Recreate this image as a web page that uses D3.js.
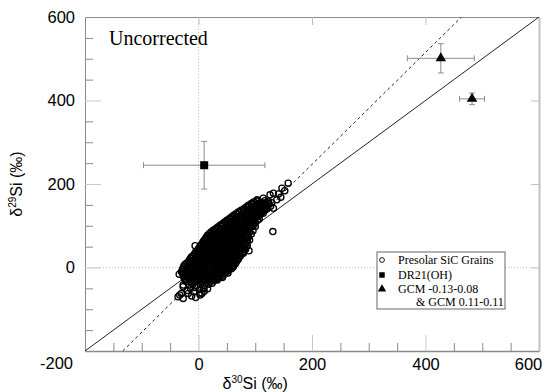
<!DOCTYPE html>
<html>
<head>
<meta charset="utf-8">
<script src="https://cdn.jsdelivr.net/npm/d3@7"></script>
<style>
  body { margin: 0; background: #fff; }
  svg { display: block; }
</style>
</head>
<body>
<div id="chart"></div>
<script>
// axis ticks
const majorTicks = [-200, 0, 200, 400, 600];
const xLabelTicks = [0, 200, 400, 600];
const minorTicks = [-150, -100, -50, 50, 100, 150, 250, 300, 350, 450, 500, 550];

// reference lines: y = slope * x + intercept
const solarLine = { slope: 1, intercept: 0 };
const fitLine = { slope: 1.34, intercept: -21 };

// DR21(OH) and GCM measurements with 1-sigma errors
const dr21 = [{ d30: 10, d29: 245, e30: 107, e29: 57 }];
const gcm = [
  { d30: 427, d29: 501, e30: 59, e29: 35 },
  { d30: 482, d29: 404, e30: 22, e29: 14 }
];

const legendLabels = ['Presolar SiC Grains', 'DR21(OH)', 'GCM -0.13-0.08', '& GCM 0.11-0.11'];

// presolar SiC grains [d30Si, d29Si]
const sicGrains = [
  [-12,-68],[-5,-72],[3,-66],[-18,-62],
  [-8,-58],[2,-61],[10,-57],[-20,-55],
  [-14,-50],[-6,-48],[2,-52],[9,-49],[16,-51],
  [-17,-42],[-10,-40],[-3,-43],[4,-41],[11,-44],[18,-40],[24,-38],
  [-21,-34],[-14,-33],[-7,-35],[0,-32],[6,-34],[13,-31],[20,-35],[27,-32],[33,-30],
  [-23,-30],[-16,-29],[-9,-31],[-2,-28],[5,-30],[11,-28],[18,-31],[25,-29],[31,-28],
  [-25,-26],[-18,-24],[-11,-27],[-4,-25],[3,-23],[9,-26],[16,-24],[23,-27],[30,-25],[37,-22],[42,-24],
  [-26,-22],[-19,-21],[-12,-23],[-5,-20],[2,-22],[9,-21],[15,-23],[22,-20],[29,-22],[36,-19],[43,-21],
  [-27,-18],[-20,-16],[-13,-19],[-6,-17],[1,-15],[8,-18],[14,-16],[21,-19],[28,-17],[35,-15],[41,-18],[47,-14],
  [-28,-14],[-21,-13],[-14,-15],[-7,-12],[0,-14],[7,-13],[13,-15],[20,-12],[27,-14],[34,-12],[40,-14],[46,-11],[52,-13],
  [-29,-9],[-22,-11],[-15,-8],[-8,-10],[-1,-7],[6,-11],[12,-9],[19,-6],[26,-10],[33,-8],[39,-11],[45,-7],[51,-9],
  [-28,-5],[-21,-6],[-14,-4],[-7,-6],[0,-4],[7,-6],[13,-5],[20,-3],[27,-6],[34,-4],[40,-6],[46,-4],[53,-5],[58,-3],
  [-27,-1],[-20,-3],[-13,0],[-6,-2],[1,1],[7,-3],[14,-1],[21,2],[28,-2],[34,0],[41,-3],[47,1],[54,-1],[59,2],
  [-26,3],[-19,2],[-12,4],[-5,2],[2,3],[9,1],[15,4],[22,2],[29,4],[36,2],[42,5],[49,3],[55,4],[61,1],
  [-24,7],[-17,5],[-10,8],[-3,6],[4,4],[11,8],[17,6],[24,9],[31,5],[37,7],[44,10],[50,6],[56,8],[62,5],
  [-21,10],[-14,11],[-7,9],[0,11],[7,10],[14,12],[20,9],[27,11],[34,10],[40,12],[46,9],[53,11],[59,10],[65,9],
  [-18,13],[-11,15],[-4,12],[3,16],[10,14],[16,11],[23,15],[29,13],[36,17],[42,12],[49,15],[55,13],[61,16],[66,12],
  [-16,18],[-9,17],[-2,19],[5,18],[12,17],[18,19],[25,17],[32,19],[38,18],[45,17],[51,19],[57,18],[63,19],[68,17],
  [-14,22],[-7,20],[0,23],[7,21],[13,24],[20,19],[27,23],[33,21],[40,25],[46,20],[52,23],[59,21],[65,24],[70,20],
  [-12,26],[-5,25],[2,27],[9,26],[16,25],[22,27],[29,26],[35,25],[42,27],[48,26],[54,24],[61,26],[67,27],[72,25],
  [-9,29],[-2,31],[5,28],[11,32],[18,30],[24,27],[31,31],[37,29],[44,33],[50,28],[56,31],[63,29],[69,32],[74,28],
  [-7,33],[0,35],[7,34],[13,33],[20,35],[26,34],[33,33],[39,35],[46,34],[52,33],[58,35],[65,34],[71,33],[77,35],
  [-5,37],[2,39],[9,36],[15,40],[22,38],[28,35],[35,39],[41,37],[48,41],[54,36],[60,39],[67,37],[73,40],[79,38],
  [-2,41],[4,43],[11,42],[17,41],[24,43],[30,42],[37,41],[43,43],[50,42],[56,41],[62,43],[69,42],[75,41],[81,43],
  [0,45],[6,47],[13,44],[19,48],[26,46],[32,43],[39,47],[45,45],[52,49],[58,44],[64,47],[71,45],[77,48],[83,44],
  [2,49],[8,51],[15,50],[21,49],[28,51],[34,50],[41,49],[47,51],[54,50],[60,49],[66,51],[73,50],[79,49],[84,51],
  [4,53],[11,55],[17,52],[24,56],[30,54],[37,51],[43,55],[49,53],[56,57],[62,52],[68,55],[75,53],[81,56],[86,52],
  [6,57],[13,59],[19,58],[26,57],[32,59],[39,58],[45,57],[51,59],[58,58],[64,57],[70,59],[77,58],[83,57],
  [8,61],[15,63],[21,60],[28,64],[34,62],[41,59],[47,63],[53,61],[60,65],[66,60],[72,63],[79,61],[85,64],
  [10,65],[17,67],[23,66],[30,65],[36,67],[42,66],[49,65],[55,67],[61,66],[68,65],[74,67],[80,66],[86,65],
  [12,69],[19,71],[25,68],[32,72],[38,70],[44,67],[51,71],[57,69],[63,73],[70,68],[76,71],[82,69],[87,72],
  [14,73],[21,75],[27,74],[34,73],[40,75],[46,74],[53,73],[59,75],[65,74],[71,73],[77,75],[83,74],
  [16,77],[23,79],[29,76],[36,80],[42,78],[48,75],[55,79],[61,77],[67,81],[73,76],[79,79],[85,77],
  [19,81],[26,83],[32,82],[38,81],[44,83],[51,82],[57,81],[63,83],[69,82],[75,81],[81,83],[87,82],
  [22,85],[28,87],[35,84],[41,88],[47,86],[53,83],[60,87],[66,85],[72,89],[78,84],[84,87],[90,85],
  [26,89],[33,91],[39,90],[45,89],[52,91],[58,90],[64,89],[70,91],[76,90],[82,89],[88,91],
  [30,93],[36,95],[42,92],[49,96],[55,94],[61,91],[67,95],[73,93],[79,97],[85,92],[91,95],
  [34,97],[40,99],[47,98],[53,97],[59,99],[66,98],[72,97],[78,99],[84,98],[90,97],[95,99],
  [38,101],[44,103],[50,100],[57,104],[63,102],[69,99],[75,103],[81,101],[87,105],[93,100],[98,103],
  [42,105],[48,107],[55,106],[61,105],[67,107],[73,106],[79,105],[85,107],[91,106],[97,105],
  [46,109],[52,111],[58,108],[64,112],[70,110],[76,107],[82,111],[88,109],[94,113],[100,108],
  [50,113],[56,115],[62,114],[68,113],[74,115],[80,114],[86,113],[92,115],[98,114],[104,113],
  [54,117],[60,119],[66,116],[72,120],[78,118],[84,115],[90,119],[96,117],[102,121],[107,116],
  [58,121],[64,123],[70,122],[76,121],[82,123],[88,122],[94,121],[100,123],[106,122],
  [62,125],[68,127],[74,124],[80,128],[86,126],[92,123],[98,127],[104,125],[110,129],
  [66,129],[72,131],[78,130],[84,129],[90,131],[96,130],[102,129],[108,131],[114,130],
  [70,133],[76,135],[82,132],[88,136],[94,134],[100,131],[106,135],[112,133],[117,137],
  [75,137],[81,139],[87,138],[93,137],[99,139],[105,138],[111,137],[117,139],
  [80,141],[86,143],[92,140],[98,144],[104,142],[110,139],[116,143],[121,141],
  [84,145],[90,147],[96,146],[102,145],[108,147],[114,146],[120,145],
  [88,149],[94,151],[100,148],[106,152],[112,150],[118,147],[124,151],
  [93,153],[99,155],[106,154],[112,153],[118,155],[124,154],
  [97,157],[104,159],[110,156],[117,160],[123,158],[129,155],
  // scattered grains around the cloud
  [-6,52],[-12,22],[-30,-10],[-34,-16],[-27,-46],[-30,-62],[-36,-70],[-27,-74],[-33,-66],[-27,-42],[9,-50],[6,-62],
  [31,70],[45,83],[54,96],[50,110],
  [89,40],[79,34],[72,31],[90,66],[88,73],[93,80],[96,88],[100,98],
  [131,86],
  [158,202],[147,190],[132,178],[141,176],[126,174],[114,166],[111,154],[123,158],[138,162],[103,162],
  [132,142],[127,147],[145,168],[152,184]
];

const W = 553, H = 392;
const margin = { top: 17, right: 14, bottom: 41, left: 85 };
const width = W - margin.left - margin.right;
const height = H - margin.top - margin.bottom;

const svg = d3.select('#chart').append('svg')
  .attr('width', W)
  .attr('height', H);

const g = svg.append('g')
  .attr('transform', `translate(${margin.left},${margin.top})`);

const x = d3.scaleLinear().domain([-200, 600]).range([0, width]);
const y = d3.scaleLinear().domain([-200, 600]).range([height, 0]);
const fmt = d => String(d);

svg.append('defs').append('clipPath').attr('id', 'plot-clip')
  .append('rect').attr('width', width).attr('height', height);

// zero lines
g.append('line')
  .attr('x1', x(0)).attr('x2', x(0)).attr('y1', 0).attr('y2', height)
  .attr('stroke', '#c4c4c4').attr('stroke-dasharray', '1,2');
g.append('line')
  .attr('x1', 0).attr('x2', width).attr('y1', y(0)).attr('y2', y(0))
  .attr('stroke', '#c4c4c4').attr('stroke-dasharray', '1,2');

// minor ticks (left + bottom)
g.append('g')
  .call(d3.axisLeft(y).tickValues(minorTicks).tickSize(-8).tickSizeOuter(0).tickFormat(''))
  .call(a => a.select('.domain').remove())
  .selectAll('.tick line').attr('stroke', '#8a8a8a');
g.append('g')
  .attr('transform', `translate(0,${height})`)
  .call(d3.axisBottom(x).tickValues(minorTicks).tickSize(-8).tickSizeOuter(0).tickFormat(''))
  .call(a => a.select('.domain').remove())
  .selectAll('.tick line').attr('stroke', '#8a8a8a');

// top + right major ticks
g.append('g')
  .call(d3.axisTop(x).tickValues(majorTicks.slice(1, -1)).tickSize(-8).tickSizeOuter(0).tickFormat(''))
  .call(a => a.select('.domain').attr('stroke', '#8a8a8a'))
  .selectAll('.tick line').attr('stroke', '#bdbdbd');
g.append('g')
  .attr('transform', `translate(${width},0)`)
  .call(d3.axisRight(y).tickValues(majorTicks.slice(1, -1)).tickSize(-8).tickSizeOuter(0).tickFormat(''))
  .call(a => a.select('.domain').attr('stroke', '#c2c2c2').attr('stroke-width', 2))
  .selectAll('.tick line').attr('stroke', '#c2c2c2');

// left axis
const yAxis = g.append('g')
  .call(d3.axisLeft(y).tickValues(majorTicks).tickFormat(fmt).tickSize(-16).tickSizeOuter(0).tickPadding(10));
yAxis.select('.domain').attr('stroke', '#8a8a8a');
yAxis.selectAll('.tick line').attr('stroke', '#c8c8c8');
yAxis.selectAll('text')
  .style('font-family', '"Liberation Sans", Arial, sans-serif')
  .style('font-size', '16.5px')
  .attr('fill', '#000');
yAxis.selectAll('.tick').filter(d => d === -200).select('text')
  .attr('y', 12).attr('x', -12);
yAxis.selectAll('.tick').filter(d => d === -200 || d === 600).select('line').remove();

// bottom axis
const xAxis = g.append('g')
  .attr('transform', `translate(0,${height})`)
  .call(d3.axisBottom(x).tickValues(xLabelTicks).tickFormat(fmt).tickSize(-16).tickSizeOuter(0).tickPadding(7));
xAxis.select('.domain').attr('stroke', '#8a8a8a').attr('stroke-width', 1.3);
xAxis.selectAll('.tick line').attr('stroke', '#c8c8c8');
xAxis.selectAll('text')
  .style('font-family', '"Liberation Sans", Arial, sans-serif')
  .style('font-size', '16.5px')
  .attr('fill', '#000');
xAxis.selectAll('.tick').filter(d => d === 600).select('text').attr('dx', -11);
xAxis.selectAll('.tick').filter(d => d === 600).select('line').remove();

// reference lines
const plot = g.append('g').attr('clip-path', 'url(#plot-clip)');
const lineEnds = l => [-200, 600].map(v => [v, l.slope * v + l.intercept]);
const fitEnds = [
  [(-200 - fitLine.intercept) / fitLine.slope, -200],
  [(600 - fitLine.intercept) / fitLine.slope, 600]
];
const line = d3.line().x(d => x(d[0])).y(d => y(d[1]));

plot.append('path')
  .attr('d', line(lineEnds(solarLine)))
  .attr('stroke', '#222').attr('stroke-width', 1).attr('fill', 'none');
plot.append('path')
  .attr('d', line(fitEnds))
  .attr('stroke', '#222').attr('stroke-width', 1).attr('stroke-dasharray', '3,3').attr('fill', 'none');

// grains
plot.selectAll('.grain')
  .data(sicGrains)
  .enter().append('circle')
  .attr('class', 'grain')
  .attr('cx', d => x(d[0]))
  .attr('cy', d => y(d[1]))
  .attr('r', 3.1)
  .attr('fill', 'none')
  .attr('stroke', '#000')
  .attr('stroke-width', 1.3);

// error bars
function errorBars(data) {
  const cap = 3;
  const eb = g.append('g').attr('stroke', '#8c8c8c').attr('stroke-width', 1);
  data.forEach(d => {
    const cx = x(d.d30), cy = y(d.d29);
    const x0 = x(d.d30 - d.e30), x1 = x(d.d30 + d.e30);
    const y0 = y(d.d29 - d.e29), y1 = y(d.d29 + d.e29);
    eb.append('line').attr('x1', x0).attr('x2', x1).attr('y1', cy).attr('y2', cy);
    eb.append('line').attr('x1', cx).attr('x2', cx).attr('y1', y0).attr('y2', y1);
    eb.append('line').attr('x1', x0).attr('x2', x0).attr('y1', cy - cap).attr('y2', cy + cap);
    eb.append('line').attr('x1', x1).attr('x2', x1).attr('y1', cy - cap).attr('y2', cy + cap);
    eb.append('line').attr('x1', cx - cap).attr('x2', cx + cap).attr('y1', y0).attr('y2', y0);
    eb.append('line').attr('x1', cx - cap).attr('x2', cx + cap).attr('y1', y1).attr('y2', y1);
  });
}
errorBars(dr21);
errorBars(gcm);

g.selectAll('.dr21')
  .data(dr21)
  .enter().append('path')
  .attr('class', 'dr21')
  .attr('transform', d => `translate(${x(d.d30)},${y(d.d29)})`)
  .attr('d', d3.symbol(d3.symbolSquare, 64))
  .attr('fill', '#000');

g.selectAll('.gcm')
  .data(gcm)
  .enter().append('path')
  .attr('class', 'gcm')
  .attr('transform', d => `translate(${x(d.d30)},${y(d.d29)})`)
  .attr('d', d3.symbol(d3.symbolTriangle, 48))
  .attr('fill', '#000');

// label
svg.append('text')
  .attr('x', 109).attr('y', 45)
  .style('font-family', '"Liberation Serif", "Times New Roman", serif')
  .style('font-size', '20px')
  .text('Uncorrected');

// legend
const legend = svg.append('g').attr('transform', 'translate(377,252)');
legend.append('rect')
  .attr('width', 128).attr('height', 57)
  .attr('fill', '#fff').attr('stroke', '#666').attr('stroke-width', 1);
const serif = '"Liberation Serif", "Times New Roman", serif';
const rows = [12, 27, 41, 53.5];
legend.append('circle').attr('cx', 5).attr('cy', rows[0] - 4).attr('r', 2.4)
  .attr('fill', 'none').attr('stroke', '#000').attr('stroke-width', 0.9);
legend.append('path').attr('transform', `translate(5,${rows[1] - 4})`)
  .attr('d', d3.symbol(d3.symbolSquare, 30)).attr('fill', '#000');
legend.append('path').attr('transform', `translate(5,${rows[2] - 4})`)
  .attr('d', d3.symbol(d3.symbolTriangle, 30)).attr('fill', '#000');
legend.selectAll('.lt')
  .data(legendLabels)
  .enter().append('text')
  .attr('class', 'lt')
  .attr('x', (d, i) => i === 3 ? 39 : 21)
  .attr('y', (d, i) => rows[i])
  .style('font-family', serif)
  .style('font-size', '12px')
  .text(d => d);

// axis titles
const sans = '"Liberation Sans", Arial, sans-serif';
const xt = svg.append('text')
  .attr('x', margin.left + x(100)).attr('y', 389)
  .attr('text-anchor', 'middle')
  .style('font-family', sans).style('font-size', '16px');
xt.append('tspan').text('δ');
xt.append('tspan').attr('dy', -6).style('font-size', '10px').text('30');
xt.append('tspan').attr('dy', 6).text('Si (‰)');

const yt = svg.append('text')
  .attr('transform', `translate(22,${margin.top + y(200)}) rotate(-90)`)
  .attr('text-anchor', 'middle')
  .style('font-family', sans).style('font-size', '16px');
yt.append('tspan').text('δ');
yt.append('tspan').attr('dy', -6).style('font-size', '10px').text('29');
yt.append('tspan').attr('dy', 6).text('Si (‰)');
</script>
</body>
</html>
